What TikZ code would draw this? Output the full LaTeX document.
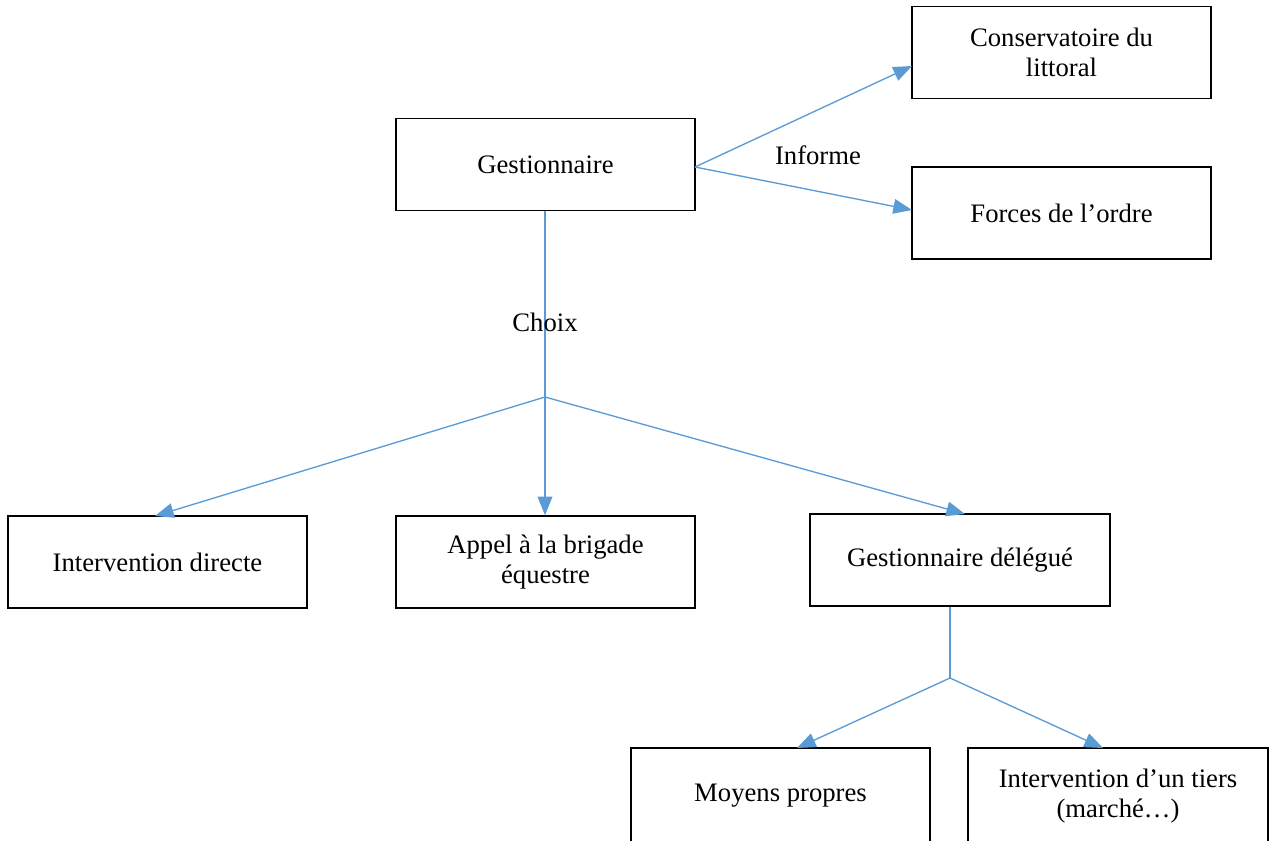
\documentclass[tikz,border=0pt]{standalone}
\usepackage{fontspec}
\setmainfont{Liberation Serif}
\usetikzlibrary{arrows.meta}
\definecolor{conn}{HTML}{5B9BD5}
\begin{document}
\begin{tikzpicture}[x=0.75pt,y=-0.75pt,
  box/.style={draw=black,line width=1pt,minimum width=224.25pt,minimum height=69pt,inner sep=0pt,align=center,font=\fontsize{20}{23}\selectfont},
  lbl/.style={font=\fontsize{20}{23}\selectfont,inner sep=0pt},
  conline/.style={draw=conn,line width=1pt},
  arr/.style={conline,-{Triangle[length=14pt,width=11pt]}}]
\useasboundingbox (0,0) rectangle (1270,840);
\clip (0,0) rectangle (1270,840);
\node[box] (gest) at (545.5,164.5) {Gestionnaire};
\node[box] (cons) at (1061.5,52.5) {Conservatoire du\\littoral};
\node[box] (forc) at (1061.5,213) {Forces de l’ordre};
\node[box] (intd) at (157.5,562) {Intervention directe};
\node[box] (appe) at (545.5,562) {Appel à la brigade\\équestre};
\node[box,minimum width=225pt] (deleg) at (960,560) {Gestionnaire délégué};
\node[box,minimum height=72pt] (moy) at (780.5,796) {Moyens propres};
\node[box,minimum width=225pt,minimum height=72pt] (tiers) at (1118,796) {Intervention d’un tiers\\(marché…)};
\coordinate (j1) at (545,397);
\coordinate (j2) at (950,678);
\coordinate (gr) at (695,167);
\draw[arr] (gr) -- (912,66);
\draw[arr] (gr) -- (912,210);
\node[lbl] (inf) at (818,155) {Informe};
\draw[conline] (gest.south -| j1) -- (j1);
\node[lbl] (choix) at (545,322) {Choix};
\draw[arr] (j1) -- (appe.north -| j1);
\draw[arr] (j1) -- (155,516);
\draw[arr] (j1) -- (965,514);
\draw[conline] (deleg.south -| j2) -- (j2);
\draw[arr] (j2) -- (797,748);
\draw[arr] (j2) -- (1103,748);
\end{tikzpicture}
\end{document}
